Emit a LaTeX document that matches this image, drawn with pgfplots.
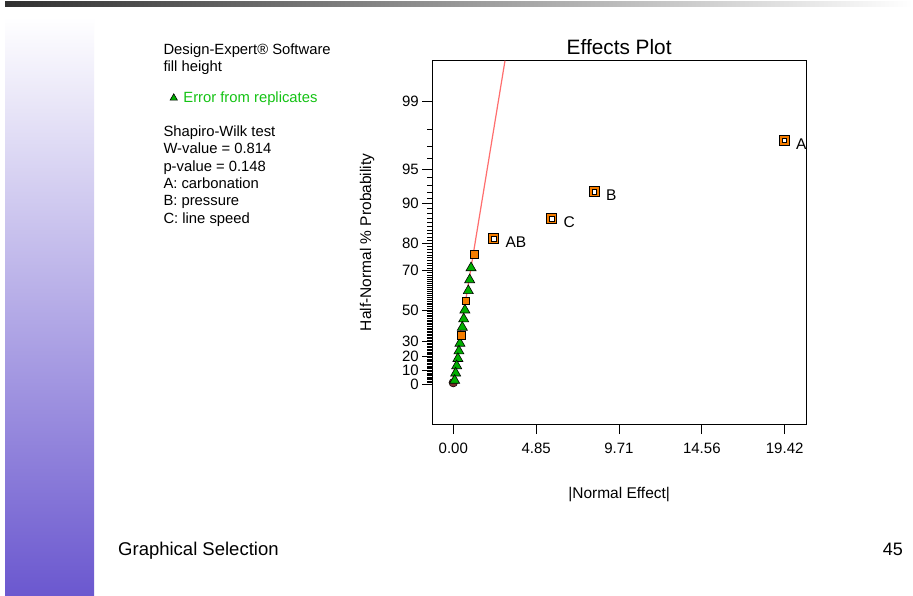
\documentclass[border=0pt]{standalone}
\usepackage{fontspec}
\setmainfont{Liberation Sans}
\usepackage{pgfplots}
\pgfplotsset{compat=1.18}
\definecolor{barpurple}{RGB}{107,88,207}
\definecolor{bardark}{RGB}{48,48,48}
\definecolor{ptorange}{RGB}{245,125,0}
\definecolor{ptgreen}{RGB}{0,175,0}
\definecolor{txtgreen}{RGB}{20,195,20}
\definecolor{fitred}{RGB}{255,110,110}
\definecolor{dotbrown}{RGB}{120,45,45}

\begin{document}
\begin{tikzpicture}
\useasboundingbox (0pt,0pt) rectangle (913pt,595pt);
\fill[white] (0pt,0pt) rectangle (913pt,595pt);
\shade[left color=bardark, right color=white] (5pt,588pt) rectangle (913pt,593pt);
\shade[top color=white, bottom color=barpurple] (5pt,0pt) rectangle (94pt,578pt);

\begin{axis}[
  at={(432.3pt,171pt)}, anchor=south west,
  scale only axis, width=373.7pt, height=363.3pt,
  xmin=-1.23, xmax=20.67, ymin=-0.365, ymax=2.95,
  axis line style={black, line width=1pt},
  tick align=outside, xtick pos=bottom, ytick pos=left,
  major tick length=10pt, minor tick length=5pt,
  every tick/.style={black, line width=0.9pt},
  xtick={0,4.855,9.71,14.565,19.42},
  xticklabels={0.00,4.85,9.71,14.56,19.42},
  xticklabel style={yshift=-5.5pt},
  ytick={0,0.12566,0.25335,0.38532,0.67449,1.03643,1.28155,1.64485,1.95996,2.57583},
  yticklabels={0,10,20,30,50,70,80,90,95,99},
  minor ytick={0.01253,0.02507,0.03761,0.05015,0.06271,0.07527,0.08784,0.10043,0.11304,
    0.13830,0.15097,0.16366,0.17637,0.18912,0.20189,0.21470,0.22754,0.24043,
    0.26631,0.27932,0.29237,0.30548,0.31864,0.33185,0.34513,0.35846,0.37186,
    0.39886,0.41246,0.42615,0.43991,0.45376,0.46770,0.48173,0.49585,0.51007,0.52440,
    0.53884,0.55338,0.56805,0.58284,0.59776,0.61281,0.62801,0.64335,0.65884,
    0.69031,0.70630,0.72248,0.73885,0.75542,0.77219,0.78919,0.80642,0.82389,0.84162,
    0.85961,0.87790,0.89647,0.91537,0.93459,0.95417,0.97411,0.99446,1.01522,
    1.05812,1.08032,1.10306,1.12639,1.15035,1.17499,1.20036,1.22653,1.25357,
    1.31058,1.34076,1.37220,1.40507,1.43953,1.47579,1.51410,1.55477,1.59819,
    1.69540,1.75069,1.81191,1.88079,2.05375,2.17009,2.32635},
  font=\fontsize{15.5}{18}\selectfont,
  tick label style={font=\fontsize{15}{18}\selectfont},
  title={Effects Plot},
  title style={font=\fontsize{20.8}{24}\selectfont, at={(axis description cs:0.5,1)}, anchor=base, yshift=-0.3pt, inner sep=0pt},
  xlabel={|Normal Effect|},
  xlabel style={at={(axis description cs:0.5,0)}, anchor=base, yshift=-74.7pt, inner sep=0pt},
  ylabel={Half-Normal \% Probability},
  ylabel style={at={(axis description cs:-0.1747,0.5)}, anchor=center},
  legend style={draw=none, fill=none, at={(-0.7021,0.8973)}, anchor=west, inner sep=0pt,
    font=\fontsize{14.8}{17}\selectfont, text=txtgreen,
    /tikz/every odd column/.append style={column sep=4pt}},
  legend cell align=left,
  legend image code/.code={\path[#1, mark size=4.2pt] plot coordinates {(4pt,0pt)};},
  clip mode=individual,
]
\addplot[fitred, line width=1.2pt, forget plot] coordinates {(-0.08,0) (3.03,2.95)};
\addplot[only marks, mark=*, mark size=4.3pt, mark options={draw=black, fill=dotbrown, line width=0.5pt}, forget plot]
  coordinates {(0.0,0.012)};
\addplot[only marks, mark=triangle*, mark size=5.8pt, mark options={draw=black, fill=ptgreen, line width=0.6pt}]
  table {
x y
1.04 1.0597
0.96 0.9505
0.88 0.8510
0.68 0.6745
0.61 0.5937
0.53 0.5172
0.39 0.3710
0.33 0.3007
0.27 0.2322
0.20 0.1657
0.14 0.0991
0.08 0.0330
};
\addlegendentry{Error from replicates}
\addplot[only marks, mark=square*, mark size=3.85pt, mark options={draw=black, fill=ptorange, line width=0.6pt}, forget plot]
  table {
x y
1.24 1.1830
0.74 0.7592
0.45 0.4429
};
\addplot[only marks, mark=square*, mark size=5pt, mark options={draw=black, fill=ptorange, line width=0.6pt}, forget plot,
  nodes near coords, point meta=explicit symbolic,
  nodes near coords style={anchor=west, inner sep=0pt, xshift=11.5pt, yshift=-3.5pt, font=\fontsize{15.5}{18}\selectfont, text=black}]
  table[meta=label] {
x y label
19.40 2.2225 A
8.26 1.7568 B
5.77 1.5077 C
2.37 1.3275 AB
};
\addplot[only marks, mark=square*, mark size=2.3pt, mark options={draw=black, fill=white, line width=0.5pt}, forget plot]
  table {
x y
19.40 2.2225
8.26 1.7568
5.77 1.5077
2.37 1.3275
};
\end{axis}

\begin{scope}[every node/.style={anchor=base west, inner sep=0pt, font=\fontsize{14.8}{17}\selectfont}]
\node at (163.3pt,540pt) {Design-Expert® Software};
\node at (163.3pt,523pt) {fill height};
\node at (163.3pt,458.3pt) {Shapiro-Wilk test};
\node at (163.3pt,441pt) {W-value = 0.814};
\node at (163.3pt,423.7pt) {p-value = 0.148};
\node at (163.3pt,406.4pt) {A: carbonation};
\node at (163.3pt,389.1pt) {B: pressure};
\node at (163.3pt,371.8pt) {C: line speed};
\end{scope}
\node[anchor=base west, inner sep=0pt, font=\fontsize{18.5}{21}\selectfont] at (118pt,40pt) {Graphical Selection};
\node[anchor=base east, inner sep=0pt, font=\fontsize{18}{21}\selectfont] at (903pt,40pt) {45};
\end{tikzpicture}
\end{document}
